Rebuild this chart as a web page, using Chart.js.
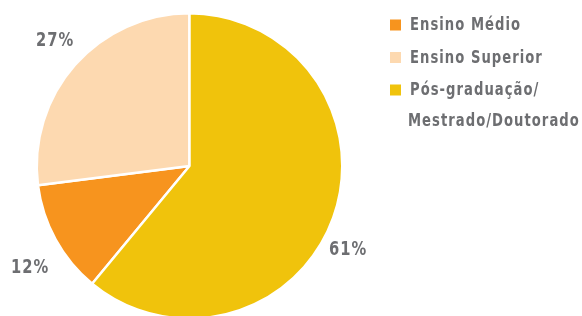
<!DOCTYPE html>
<html>
<head>
<meta charset="utf-8">
<script src="https://cdn.jsdelivr.net/npm/chart.js@4"></script>
<style>
  html, body { margin: 0; padding: 0; background: #fff; overflow: hidden; }
  #wrap { position: relative; width: 582px; height: 330px; }
</style>
</head>
<body>
<div id="wrap"><canvas id="grafico"></canvas></div>
<script>
// dados do gráfico
var categorias = ['Ensino Médio', 'Ensino Superior', ['Pós-graduação/', 'Mestrado/Doutorado']];
var valores = [12, 27, 61];
var cores = ['#f7941e', '#fdd9b0', '#f0c30c'];

// ajuste manual dos rótulos de porcentagem (graus, distância do centro)
var rotulos = [
  { desvio: -3.7, dist: 189 },
  { desvio: 1.7, dist: 184 },
  { desvio: 7.8, dist: 179 }
];

var cinza = '#6d6e71';
var fonte = "'DejaVu Sans Condensed', 'Liberation Sans Narrow', Roboto, sans-serif";

function textoCondensado(ctx, txt, x, y, tam, align) {
  ctx.save();
  ctx.font = 'bold ' + tam + 'px ' + fonte;
  ctx.letterSpacing = '1.2px';
  ctx.fillStyle = cinza;
  ctx.textBaseline = 'middle';
  var escala = 0.86;
  var w = ctx.measureText(txt).width * escala;
  var x0 = align === 'center' ? x - w / 2 : x;
  ctx.translate(x0, y);
  ctx.scale(escala, 1);
  ctx.textAlign = 'left';
  ctx.fillText(txt, 0, 0);
  ctx.restore();
}

// porcentagens fora da pizza
var pluginRotulos = {
  id: 'rotulos',
  afterDatasetsDraw: function (chart) {
    var ctx = chart.ctx;
    var meta = chart.getDatasetMeta(0);
    var total = valores.reduce(function (a, b) { return a + b; }, 0);
    meta.data.forEach(function (arc, i) {
      var meio = (arc.startAngle + arc.endAngle) / 2 + rotulos[i].desvio * Math.PI / 180;
      var x = arc.x + Math.cos(meio) * rotulos[i].dist;
      var y = arc.y + Math.sin(meio) * rotulos[i].dist;
      textoCondensado(ctx, Math.round(valores[i] / total * 100) + '%', x, y + 1, 19, 'center');
    });
  }
};

// legenda à direita
var pluginLegenda = {
  id: 'legenda',
  afterDraw: function (chart) {
    var ctx = chart.ctx;
    var y = 25;
    categorias.forEach(function (cat, i) {
      var linhas = Array.isArray(cat) ? cat : [cat];
      ctx.fillStyle = cores[i];
      ctx.fillRect(390, y - 5.5, 11, 11);
      linhas.forEach(function (l, j) {
        textoCondensado(ctx, l, j === 0 ? 410 : 408, y + 1, 17, 'left');
        y += (j < linhas.length - 1) ? 31 : 0;
      });
      y += 32.5;
    });
  }
};

var total = valores.reduce(function (a, b) { return a + b; }, 0);

var ctx = document.querySelector('#grafico').getContext('2d');
var pizza = new Chart(ctx, {
  type: 'pie',
  data: {
    labels: categorias,
    datasets: [{
      data: valores,
      backgroundColor: cores,
      borderColor: '#ffffff',
      borderWidth: 2.5
    }]
  },
  options: {
    responsive: true,
    maintainAspectRatio: false,
    animation: false,
    rotation: 360 * valores[2] / total,
    layout: { padding: { left: 35, right: 238, top: 12, bottom: 10 } },
    plugins: {
      legend: { display: false },
      tooltip: { enabled: false }
    }
  },
  plugins: [pluginRotulos, pluginLegenda]
});
</script>
</body>
</html>
